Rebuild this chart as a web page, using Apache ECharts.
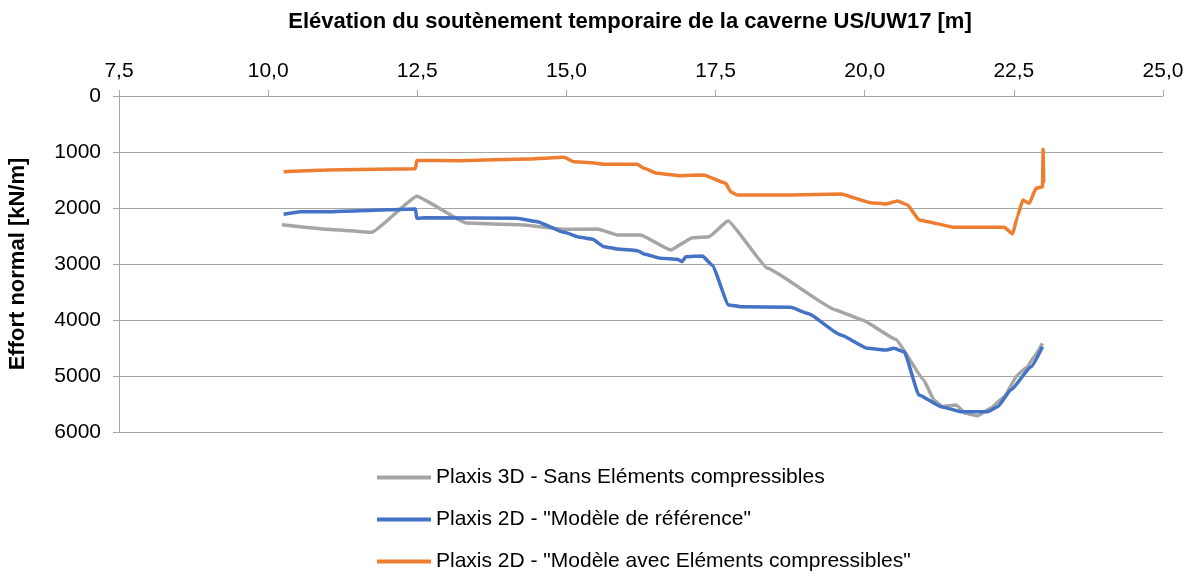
<!DOCTYPE html>
<html>
<head>
<meta charset="utf-8">
<script src="https://cdn.jsdelivr.net/npm/echarts@6/dist/echarts.min.js"></script>
<style>
  html, body { margin: 0; padding: 0; background: #fff; }
  #chart { width: 1194px; height: 578px; }
</style>
</head>
<body>
<div id="chart"></div>
<script>
// series names
var seriesNames = [
  "Plaxis 3D - Sans Eléments compressibles",
  'Plaxis 2D - "Modèle de référence"',
  'Plaxis 2D - "Modèle avec Eléments compressibles"'
];

// [élévation (m), effort normal (kN/m)]
var gris3D = [
  [10.23, 2300], [10.98, 2380], [11.74, 2435], [12.49, 1790], [13.33, 2270],
  [14.23, 2300], [14.96, 2380], [15.52, 2375], [15.85, 2480], [16.19, 2480],
  [16.24, 2482], [16.75, 2750], [17.11, 2530], [17.39, 2512], [17.71, 2226],
  [18.37, 3077], [19.51, 3821], [19.96, 4000], [20.52, 4345], [20.99, 5071],
  [21.16, 5429], [21.30, 5548], [21.53, 5518], [21.69, 5667], [21.89, 5714],
  [22.11, 5577], [22.34, 5369], [22.56, 4982], [22.73, 4833], [22.84, 4655],
  [22.98, 4417]
];

var bleuRef = [
  [10.26, 2113], [10.54, 2066], [10.98, 2066], [11.54, 2048], [12.47, 2018],
  [12.49, 2185], [12.66, 2173], [14.17, 2185], [14.51, 2244], [14.96, 2435],
  [15.23, 2524], [15.43, 2554], [15.63, 2690], [15.85, 2732], [16.19, 2762],
  [16.30, 2821], [16.58, 2899], [16.86, 2917], [16.94, 2958], [17.00, 2869],
  [17.28, 2857], [17.44, 3018], [17.72, 3732], [17.92, 3762], [18.76, 3774],
  [19.04, 3881], [19.60, 4268], [20.05, 4506], [20.35, 4536], [20.49, 4506],
  [20.66, 4566], [20.91, 5339], [21.28, 5548], [21.61, 5637], [22.06, 5637],
  [22.23, 5548], [22.45, 5250], [22.79, 4833], [22.98, 4476]
];

var orangeComp = [
  [10.26, 1351], [10.98, 1321], [12.10, 1304], [12.47, 1300], [12.49, 1150],
  [13.22, 1155], [14.34, 1125], [14.96, 1095], [15.12, 1173], [15.43, 1190],
  [15.63, 1220], [16.19, 1220], [16.30, 1292], [16.52, 1381], [16.91, 1423],
  [17.30, 1411], [17.67, 1560], [17.75, 1708], [17.86, 1768], [18.76, 1768],
  [19.60, 1750], [20.10, 1905], [20.35, 1929], [20.55, 1875], [20.72, 1946],
  [20.91, 2214], [21.50, 2345], [22.34, 2345], [22.48, 2464], [22.56, 2155],
  [22.65, 1857], [22.76, 1917], [22.87, 1649], [22.98, 1620], [22.99, 950],
  [23.00, 1550]
];

var xTicks = { min: 7.5, max: 25, step: 2.5 };
var yTicks = { min: 0, max: 6000, step: 1000 };

var myChart = echarts.init(document.getElementById("chart"));

var font = "Liberation Sans";

var option = {
  animation: false,
  color: ["#A5A5A5", "#4472C4", "#ED7D31"],
  title: {
    text: "Elévation du soutènement temporaire de la caverne US/UW17 [m]",
    left: 625,
    top: 6,
    textAlign: "center",
    textStyle: { fontFamily: font, fontSize: 22, fontWeight: "bold", color: "#000" }
  },
  grid: { left: 119, right: 31, top: 96, bottom: 146, outerBoundsMode: "none" },
  legend: {
    orient: "vertical",
    left: 372,
    top: 462,
    icon: "rect",
    itemWidth: 54,
    itemHeight: 4,
    itemGap: 21,
    data: seriesNames,
    textStyle: { fontFamily: font, fontSize: 21, color: "#000", padding: [0, 0, 0, 0] }
  },
  xAxis: {
    type: "value",
    position: "top",
    min: xTicks.min,
    max: xTicks.max,
    interval: xTicks.step,
    axisLine: { show: true, lineStyle: { color: "#A6A6A6", width: 1 } },
    axisTick: { show: true, inside: false, length: 6, lineStyle: { color: "#A6A6A6" } },
    splitLine: { show: false },
    axisLabel: {
      fontFamily: font, fontSize: 21, color: "#000", margin: 14,
      formatter: function (v) { return v.toFixed(1).replace(".", ","); }
    }
  },
  yAxis: {
    type: "value",
    inverse: true,
    min: yTicks.min,
    max: yTicks.max,
    interval: yTicks.step,
    name: "Effort normal [kN/m]",
    nameLocation: "middle",
    nameRotate: 90,
    nameGap: 90,
    nameTextStyle: { fontFamily: font, fontSize: 22, fontWeight: "bold", color: "#000" },
    axisLine: { show: true, lineStyle: { color: "#A6A6A6", width: 1 } },
    axisTick: { show: true, length: 6, lineStyle: { color: "#A6A6A6" } },
    splitLine: { show: true, lineStyle: { color: "#A6A6A6", width: 1 } },
    axisLabel: {
      fontFamily: font, fontSize: 21, color: "#000", margin: 18,
      formatter: function (v) { return String(v); }
    }
  },
  series: [
    { name: seriesNames[0], type: "line", data: gris3D, showSymbol: false, smooth: 0.1, smoothMonotone: "x", lineStyle: { width: 3.5 } },
    { name: seriesNames[1], type: "line", data: bleuRef, showSymbol: false, smooth: 0.15, smoothMonotone: "x", lineStyle: { width: 3.5 } },
    { name: seriesNames[2], type: "line", data: orangeComp, showSymbol: false, smooth: 0.1, smoothMonotone: "x", lineStyle: { width: 3.5 } }
  ]
};

myChart.setOption(option);
</script>
</body>
</html>
